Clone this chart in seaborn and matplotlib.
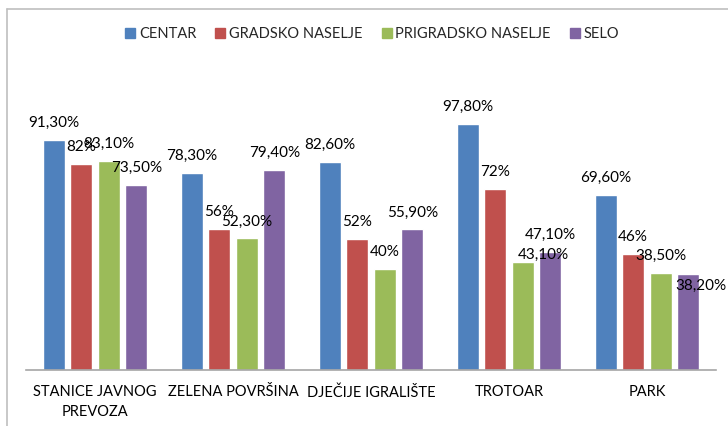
import matplotlib
matplotlib.use("Agg")
import matplotlib.pyplot as plt
import seaborn as sns
import pandas as pd
from matplotlib.lines import Line2D

categories = ["STANICE JAVNOG\nPREVOZA", "ZELENA POVRŠINA", "DJEČIJE IGRALIŠTE", "TROTOAR", "PARK"]
series = ["CENTAR", "GRADSKO NASELJE", "PRIGRADSKO NASELJE", "SELO"]
centar = [91.3, 78.3, 82.6, 97.8, 69.6]
gradsko = [82.0, 56.0, 52.0, 72.0, 46.0]
prigradsko = [83.1, 52.3, 40.0, 43.1, 38.5]
selo = [73.5, 79.4, 55.9, 47.1, 38.2]
colors = ["#4F81BD", "#C0504D", "#9BBB59", "#8064A2"]

sns.set_theme(style="white")
plt.rcParams["font.family"] = ["Lato", "DejaVu Sans"]

values = [centar, gradsko, prigradsko, selo]
rows = []
for s, vals in zip(series, values):
    for c, v in zip(categories, vals):
        rows.append({"cat": c, "series": s, "val": v})
df = pd.DataFrame(rows)

fig = plt.figure(figsize=(7.28, 4.26), dpi=100)
ax = fig.add_axes([26/728, 56/426, 690/728, 251.5/426])
sns.barplot(data=df, x="cat", y="val", hue="series", order=categories,
            hue_order=series, palette=colors, width=0.8, gap=0.2,
            saturation=1, ax=ax, legend=False)
ax.set_xlim(-0.5, 4.5)
ax.set_ylim(0, 100)
ax.set_xlabel("")
ax.set_ylabel("")
ax.set_yticks([])
for sp in ["top", "left", "right"]:
    ax.spines[sp].set_visible(False)
ax.spines["bottom"].set_color("#A6A6A6")
ax.spines["bottom"].set_linewidth(1.2)
ax.tick_params(axis="x", length=0, labelsize=10.5, pad=11, colors="#000000")
for t in ax.get_xticklabels():
    t.set_linespacing(1.55)
    t.set_va("top")


def fmt(v):
    if abs(v - round(v)) < 1e-9:
        return f"{int(round(v))}%"
    return f"{v:.2f}".replace(".", ",") + "%"

# special label offsets (pixels) for labels that Excel shifted
special = {(3, 2): (21, 7), (4, 3): (13, -12)}
for si, cont in enumerate(ax.containers):
    for ci, bar in enumerate(cont):
        v = values[si][ci]
        dx, dy = special.get((ci, si), (0, 17))
        ax.annotate(fmt(v), (bar.get_x() + bar.get_width() / 2, bar.get_height()),
                    xytext=(dx, dy), textcoords="offset pixels",
                    ha="center", va="center", fontsize=11, color="#000000",
                    annotation_clip=False)

handles = [Line2D([], [], marker="s", linestyle="none", markersize=7,
                  markerfacecolor=c, markeredgecolor=c) for c in colors]
fig.legend(handles, series, loc="center", bbox_to_anchor=(371/728, 1 - 34/426),
           ncol=4, frameon=False, fontsize=10.5, handletextpad=0.1,
           columnspacing=1.15, handlelength=1.0)

fig.add_artist(Line2D([7/728, 7/728], [0, 1 - 9/426], transform=fig.transFigure,
                      color="#BFBFBF", lw=1.2))
fig.add_artist(Line2D([7/728, 1], [1 - 9/426, 1 - 9/426], transform=fig.transFigure,
                      color="#BFBFBF", lw=1.2))

fig.savefig("out.png", dpi=100)
